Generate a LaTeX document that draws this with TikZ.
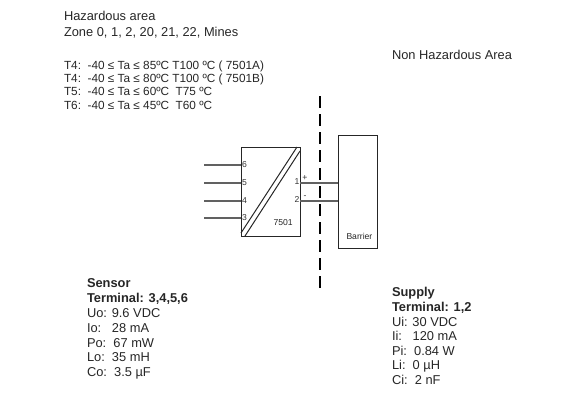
\documentclass[tikz,border=0pt]{standalone}
\usepackage{fontspec}
\setmainfont{Liberation Sans}
\begin{document}
\begin{tikzpicture}[x=1pt,y=-1pt,
  txt/.style={anchor=base west,inner sep=0pt,outer sep=0pt,text=black!85},
  big/.style={txt,font=\fontsize{12.85}{14}\selectfont},
  mid/.style={txt,font=\fontsize{11.8}{13}\selectfont},
  bigb/.style={txt,font=\fontsize{12.85}{14}\selectfont\bfseries},
  tiny/.style={txt,font=\fontsize{8.6}{9}\selectfont},
  term/.style={inner sep=0pt,outer sep=0pt,text=black!80,font=\fontsize{8.6}{9}\selectfont},
  box/.style={draw=black!85,line width=1pt,inner sep=0pt,outer sep=0pt},
  wire/.style={draw=black!62,line width=1.5pt}]
\useasboundingbox (0,0) rectangle (567,392);
\node[big] (h1) at (64,20.7) {Hazardous area};
\node[big] (h2) at (64,36) {Zone 0, 1, 2, 20, 21, 22, Mines};
\node[mid] (t1) at (64,69) {T4:\ \ -40 ≤ Ta ≤ 85ºC T100 ºC ( 7501A)};
\node[mid] (t2) at (64,82.3) {T4:\ \ -40 ≤ Ta ≤ 80ºC T100 ºC ( 7501B)};
\node[mid] (t3) at (64,95.7) {T5:\ \ -40 ≤ Ta ≤ 60ºC\ \ T75 ºC};
\node[mid] (t4) at (64,109) {T6:\ \ -40 ≤ Ta ≤ 45ºC\ \ T60 ºC};
\node[big] (na) at (392,59) {Non Hazardous Area};
% dashed separator
\coordinate (d1) at (320,96);
\coordinate (d2) at (320,288);
\draw[black,line width=1.2pt,dash pattern=on 12pt off 6pt] (d1) -- (d2);
% boxes
\node[box,minimum width=59pt,minimum height=89pt] (mod) at (270.5,191.5) {};
\node[box,minimum width=39pt,minimum height=113pt] (bar) at (357.5,191.5) {};
% diagonal stripe
\coordinate (g1) at (241,233);
\coordinate (g2) at (297,147);
\coordinate (g3) at (245,236);
\coordinate (g4) at (300,151);
\draw[black!85,line width=1pt] (g1) -- (g2);
\draw[black!85,line width=1pt] (g3) -- (g4);
% left wires
\foreach \n/\y in {6/165,5/183,4/201,3/218}{
  \coordinate (l\n) at (204,\y);
  \coordinate (m\n) at (241,\y);
  \draw[wire] (l\n) -- (m\n);
  \node[term,anchor=west] (n\n) at (242,\y-.5) {\n};
}
% right wires
\coordinate (r1) at (300,183);
\coordinate (b1) at (338,183);
\coordinate (r2) at (300,201);
\coordinate (b2) at (338,201);
\draw[wire] (r1) -- (b1);
\draw[wire] (r2) -- (b2);
\node[term,anchor=east] (n1) at (299.5,181.5) {1};
\node[term,anchor=east] (n2) at (299.5,199) {2};
\node[term,anchor=center] (pl) at (305,178.5) {+};
\node[term,anchor=center] (mi) at (305,197) {-};
\node[tiny] (lab) at (273.5,225.5) {7501};
\node[tiny] (bl) at (346.5,239.5) {Barrier};
% sensor
\node[bigb] (s1) at (87,287.3) {Sensor};
\node[bigb] (s2) at (87,302.3) {Terminal: 3,4,5,6};
\node[big] (s3) at (87,317.3) {Uo: 9.6 VDC};
\node[big] (s4) at (87,332) {Io:\ \ \ 28 mA};
\node[big] (s5) at (87,347) {Po:\ \ 67 mW};
\node[big] (s6) at (87,361.7) {Lo:\ \ 35 mH};
\node[big] (s7) at (87,376) {Co:\ \ 3.5 µF};
% supply
\node[bigb] (u1) at (392,296.7) {Supply};
\node[bigb] (u2) at (392,311.7) {Terminal: 1,2};
\node[big] (u3) at (392,326) {Ui: 30 VDC};
\node[big] (u4) at (392,340.7) {Ii:\ \ \ 120 mA};
\node[big] (u5) at (392,355) {Pi:\ \ 0.84 W};
\node[big] (u6) at (392,369.3) {Li:\ \ 0 µH};
\node[big] (u7) at (392,384.3) {Ci:\ \ 2 nF};
\end{tikzpicture}
\end{document}
